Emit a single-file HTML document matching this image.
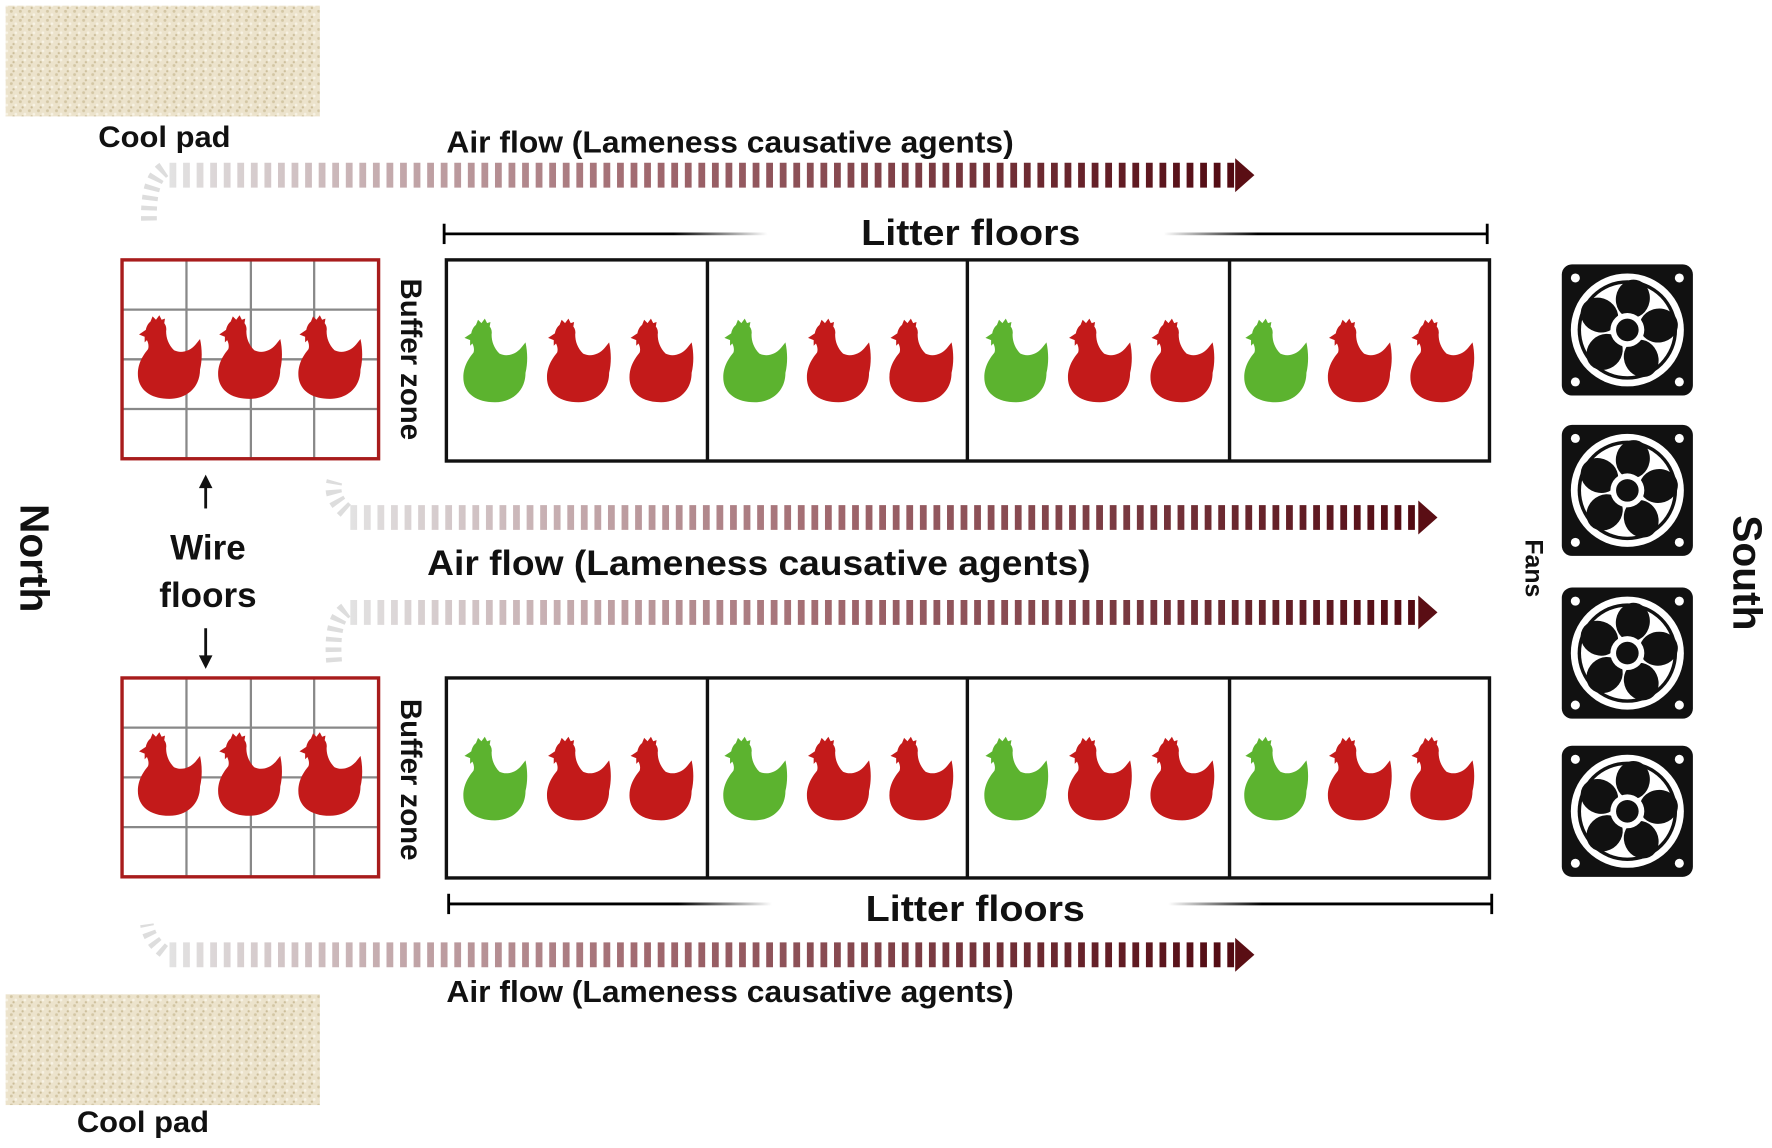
<!DOCTYPE html>
<html><head><meta charset="utf-8"><style>
html,body{margin:0;padding:0;background:#fff;}
svg{display:block;}
text{font-family:"Liberation Sans",sans-serif;font-weight:bold;fill:#111;}
</style></head><body>
<svg width="1772" height="1148" viewBox="0 0 1568 1016" xmlns="http://www.w3.org/2000/svg" preserveAspectRatio="none">
<defs>
<pattern id="pad" width="8" height="8" patternUnits="userSpaceOnUse">
<rect width="8" height="8" fill="#ece3cc"/>
<circle cx="2" cy="2" r="1.3" fill="#d3c6a4"/><circle cx="6" cy="5" r="1.2" fill="#f7f2e4"/><circle cx="4" cy="7" r="1" fill="#cbbd99"/>
</pattern>
<linearGradient id="ag1" gradientUnits="userSpaceOnUse" x1="150" x2="1093" y1="0" y2="0"><stop offset="0" stop-color="#e2e2e2"/><stop offset="0.45" stop-color="#a0686e"/><stop offset="1" stop-color="#520a12"/></linearGradient>
<linearGradient id="ag2" gradientUnits="userSpaceOnUse" x1="310" x2="1255" y1="0" y2="0"><stop offset="0" stop-color="#e2e2e2"/><stop offset="0.45" stop-color="#a0686e"/><stop offset="1" stop-color="#520a12"/></linearGradient>
<linearGradient id="lf1" gradientUnits="userSpaceOnUse" x1="393" x2="1316" y1="0" y2="0"><stop offset="0" stop-color="#000"/><stop offset="0.22" stop-color="#000"/><stop offset="0.31" stop-color="#000" stop-opacity="0"/><stop offset="0.69" stop-color="#000" stop-opacity="0"/><stop offset="0.78" stop-color="#000"/><stop offset="1" stop-color="#000"/></linearGradient>
<linearGradient id="lf2" gradientUnits="userSpaceOnUse" x1="397" x2="1320" y1="0" y2="0"><stop offset="0" stop-color="#000"/><stop offset="0.22" stop-color="#000"/><stop offset="0.31" stop-color="#000" stop-opacity="0"/><stop offset="0.69" stop-color="#000" stop-opacity="0"/><stop offset="0.78" stop-color="#000"/><stop offset="1" stop-color="#000"/></linearGradient>
<path id="hen" d="M18,4 C24,4 28,8 27,14 C27,20 29,26 34,31 C40,34 48,32 53,26 L57,21 C59,30 59,40 57,48 C57,64 45,74 30,74 C12,74 2,65 2,52 C2,42 7,35 11,30 C12,27 11,24 10,22 L8,24 L8,19 L3,17 L9,13 C10,8 13,4 18,4 Z M13,6 L15,1 L18,4 L21,0 L23,4 L26,3 L25,9 Z"/>
<g id="fan">
<rect x="0" y="0" width="116" height="116" rx="9" fill="#111"/>
<circle cx="58" cy="58" r="50" fill="#fff"/><circle cx="58" cy="58" r="44" fill="#111"/>
<circle cx="58" cy="58" r="41" fill="#fff"/>
<g fill="#111">
<ellipse cx="58" cy="30" rx="15" ry="17" transform="rotate(10 58 58)"/>
<ellipse cx="58" cy="30" rx="15" ry="17" transform="rotate(82 58 58)"/>
<ellipse cx="58" cy="30" rx="15" ry="17" transform="rotate(154 58 58)"/>
<ellipse cx="58" cy="30" rx="15" ry="17" transform="rotate(226 58 58)"/>
<ellipse cx="58" cy="30" rx="15" ry="17" transform="rotate(298 58 58)"/>
</g>
<circle cx="58" cy="58" r="15" fill="#fff"/><circle cx="58" cy="58" r="10" fill="#111"/>
<circle cx="12" cy="12" r="4" fill="#fff"/><circle cx="104" cy="12" r="4" fill="#fff"/><circle cx="12" cy="104" r="4" fill="#fff"/><circle cx="104" cy="104" r="4" fill="#fff"/>
</g>
</defs>

<rect x="5" y="5" width="278" height="98" fill="url(#pad)"/>
<rect x="5" y="880" width="278" height="98" fill="url(#pad)"/>
<text x="87" y="130" font-size="26" textLength="117" lengthAdjust="spacingAndGlyphs">Cool pad</text>
<text x="68" y="1002" font-size="26" textLength="117" lengthAdjust="spacingAndGlyphs">Cool pad</text>

<g>
<line x1="150" y1="155" x2="1093" y2="155" stroke="url(#ag1)" stroke-width="22" stroke-dasharray="6 6"/>
<polygon points="1093,140 1110,155 1093,170" fill="#5a0e14"/>
<path d="M145,150 Q130,160 132,200" fill="none" stroke="#ddd" stroke-width="14" stroke-dasharray="4 5"/>
<line x1="310" y1="458" x2="1255" y2="458" stroke="url(#ag2)" stroke-width="22" stroke-dasharray="6 6"/>
<polygon points="1255,443 1272,458 1255,473" fill="#5a0e14"/>
<path d="M306,452 Q292,440 296,426" fill="none" stroke="#ddd" stroke-width="14" stroke-dasharray="4 5"/>
<line x1="310" y1="542" x2="1255" y2="542" stroke="url(#ag2)" stroke-width="22" stroke-dasharray="6 6"/>
<polygon points="1255,527 1272,542 1255,557" fill="#5a0e14"/>
<path d="M306,540 Q292,550 296,590" fill="none" stroke="#ddd" stroke-width="14" stroke-dasharray="4 5"/>
<line x1="150" y1="845" x2="1093" y2="845" stroke="url(#ag1)" stroke-width="22" stroke-dasharray="6 6"/>
<polygon points="1093,830 1110,845 1093,860" fill="#5a0e14"/>
<path d="M145,842 Q132,832 130,818" fill="none" stroke="#ddd" stroke-width="12" stroke-dasharray="4 5"/>
</g>
<text x="395" y="135" font-size="27" textLength="502" lengthAdjust="spacingAndGlyphs">Air flow (Lameness causative agents)</text>
<text x="378" y="509" font-size="31" textLength="587" lengthAdjust="spacingAndGlyphs">Air flow (Lameness causative agents)</text>
<text x="395" y="887" font-size="27" textLength="502" lengthAdjust="spacingAndGlyphs">Air flow (Lameness causative agents)</text>

<line x1="393" y1="207" x2="1316" y2="207" stroke="url(#lf1)" stroke-width="2.5"/>
<line x1="393" y1="198" x2="393" y2="216" stroke="#000" stroke-width="2.5"/>
<line x1="1316" y1="198" x2="1316" y2="216" stroke="#000" stroke-width="2.5"/>
<text x="762" y="217" font-size="32" textLength="194" lengthAdjust="spacingAndGlyphs">Litter floors</text>
<line x1="397" y1="800" x2="1320" y2="800" stroke="url(#lf2)" stroke-width="2.5"/>
<line x1="397" y1="791" x2="397" y2="809" stroke="#000" stroke-width="2.5"/>
<line x1="1320" y1="791" x2="1320" y2="809" stroke="#000" stroke-width="2.5"/>
<text x="766" y="815" font-size="32" textLength="194" lengthAdjust="spacingAndGlyphs">Litter floors</text>

<g fill="none" stroke="#111" stroke-width="3">
<rect x="395" y="230" width="923" height="178"/>
<line x1="626" y1="230" x2="626" y2="408"/><line x1="856" y1="230" x2="856" y2="408"/><line x1="1088" y1="230" x2="1088" y2="408"/>
<rect x="395" y="600" width="923" height="177"/>
<line x1="626" y1="600" x2="626" y2="777"/><line x1="856" y1="600" x2="856" y2="777"/><line x1="1088" y1="600" x2="1088" y2="777"/>
</g>
<g>
<use href="#hen" x="408" y="282" fill="#5cb32f"/><use href="#hen" x="482" y="282" fill="#c31a1a"/><use href="#hen" x="555" y="282" fill="#c31a1a"/>
<use href="#hen" x="638" y="282" fill="#5cb32f"/><use href="#hen" x="712" y="282" fill="#c31a1a"/><use href="#hen" x="785" y="282" fill="#c31a1a"/>
<use href="#hen" x="869" y="282" fill="#5cb32f"/><use href="#hen" x="943" y="282" fill="#c31a1a"/><use href="#hen" x="1016" y="282" fill="#c31a1a"/>
<use href="#hen" x="1099" y="282" fill="#5cb32f"/><use href="#hen" x="1173" y="282" fill="#c31a1a"/><use href="#hen" x="1246" y="282" fill="#c31a1a"/>
<use href="#hen" x="408" y="652" fill="#5cb32f"/><use href="#hen" x="482" y="652" fill="#c31a1a"/><use href="#hen" x="555" y="652" fill="#c31a1a"/>
<use href="#hen" x="638" y="652" fill="#5cb32f"/><use href="#hen" x="712" y="652" fill="#c31a1a"/><use href="#hen" x="785" y="652" fill="#c31a1a"/>
<use href="#hen" x="869" y="652" fill="#5cb32f"/><use href="#hen" x="943" y="652" fill="#c31a1a"/><use href="#hen" x="1016" y="652" fill="#c31a1a"/>
<use href="#hen" x="1099" y="652" fill="#5cb32f"/><use href="#hen" x="1173" y="652" fill="#c31a1a"/><use href="#hen" x="1246" y="652" fill="#c31a1a"/>
</g>

<g stroke="#888" stroke-width="2">
<line x1="165" y1="231" x2="165" y2="405"/><line x1="222" y1="231" x2="222" y2="405"/><line x1="278" y1="231" x2="278" y2="405"/>
<line x1="109" y1="274" x2="334" y2="274"/><line x1="109" y1="318" x2="334" y2="318"/><line x1="109" y1="362" x2="334" y2="362"/>
<line x1="165" y1="601" x2="165" y2="775"/><line x1="222" y1="601" x2="222" y2="775"/><line x1="278" y1="601" x2="278" y2="775"/>
<line x1="109" y1="644" x2="334" y2="644"/><line x1="109" y1="688" x2="334" y2="688"/><line x1="109" y1="732" x2="334" y2="732"/>
</g>
<rect x="108" y="230" width="227" height="176" fill="none" stroke="#a81c1c" stroke-width="3"/>
<rect x="108" y="600" width="227" height="176" fill="none" stroke="#a81c1c" stroke-width="3"/>
<use href="#hen" x="120" y="279" fill="#c31a1a"/><use href="#hen" x="191" y="279" fill="#c31a1a"/><use href="#hen" x="262" y="279" fill="#c31a1a"/>
<use href="#hen" x="120" y="648" fill="#c31a1a"/><use href="#hen" x="191" y="648" fill="#c31a1a"/><use href="#hen" x="262" y="648" fill="#c31a1a"/>

<line x1="182" y1="450" x2="182" y2="428" stroke="#111" stroke-width="2.5"/><polygon points="176,432 182,420 188,432" fill="#111"/>
<line x1="182" y1="556" x2="182" y2="582" stroke="#111" stroke-width="2.5"/><polygon points="176,580 182,592 188,580" fill="#111"/>
<text x="184" y="495" font-size="31" text-anchor="middle">Wire</text>
<text x="184" y="537" font-size="31" text-anchor="middle">floors</text>

<text transform="translate(355,318) rotate(90)" font-size="26" text-anchor="middle">Buffer zone</text>
<text transform="translate(355,690) rotate(90)" font-size="26" text-anchor="middle">Buffer zone</text>
<text transform="translate(18,494) rotate(90)" font-size="36" text-anchor="middle">North</text>
<text transform="translate(1534,507) rotate(90)" font-size="36" text-anchor="middle">South</text>
<text transform="translate(1350,503) rotate(90)" font-size="22" text-anchor="middle">Fans</text>

<use href="#fan" x="1382" y="234"/>
<use href="#fan" x="1382" y="376"/>
<use href="#fan" x="1382" y="520"/>
<use href="#fan" x="1382" y="660"/>
</svg>
</body></html>
